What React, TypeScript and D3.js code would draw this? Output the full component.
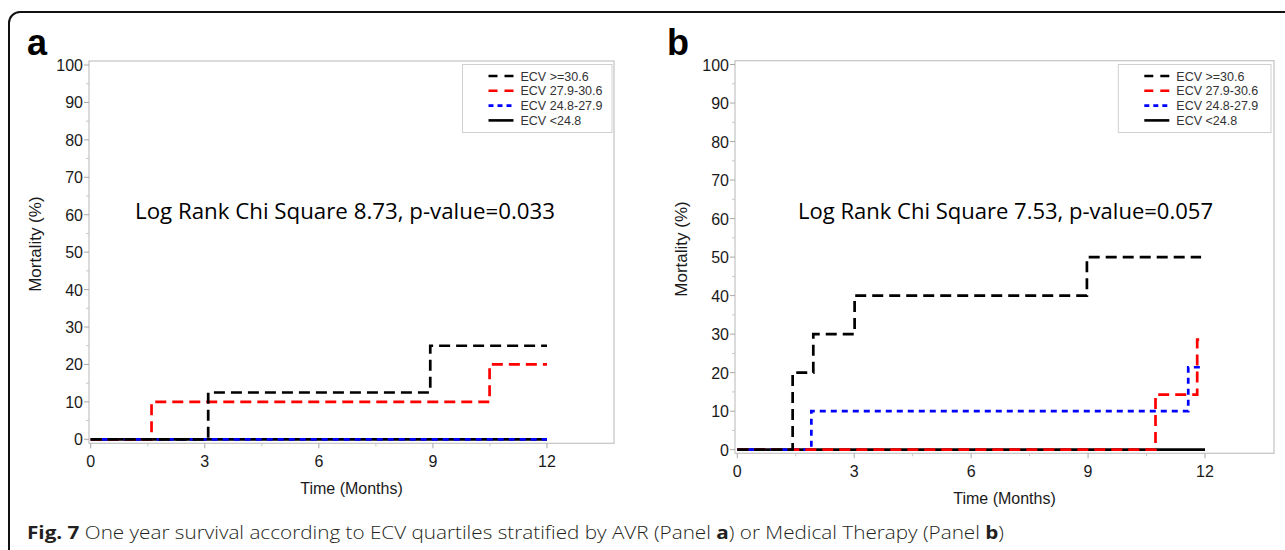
import React, { useEffect, useRef } from 'react';
import * as d3 from 'd3';

// legend labels, in the order they are listed
const groupLabels = ['ECV >=30.6', 'ECV 27.9-30.6', 'ECV 24.8-27.9', 'ECV <24.8'];

const xTicks = [0, 3, 6, 9, 12];
const yTicks = [0, 10, 20, 30, 40, 50, 60, 70, 80, 90, 100];

// Panel a (AVR) - step curves, time in months, mortality in %
const aHighTime = [0, 3.09, 8.93, 12];
const aHighVal = [0, 12.5, 25, 25];
const aMidHighTime = [0, 1.6, 10.49, 12];
const aMidHighVal = [0, 10, 20, 20];
const aMidLowTime = [0, 12];
const aMidLowVal = [0, 0];
const aLowTime = [0, 12];
const aLowVal = [0, 0];

// Panel b (Medical therapy)
const bHighTime = [0, 1.42, 1.95, 3.01, 8.97, 11.9];
const bHighVal = [0, 20, 30, 40, 50, 50];
const bMidHighTime = [0, 10.73, 11.8, 11.86];
const bMidHighVal = [0, 14.3, 28.6, 28.6];
const bMidLowTime = [0, 1.9, 11.57, 11.97];
const bMidLowVal = [0, 10, 21.4, 21.4];
const bLowTime = [0, 12];
const bLowVal = [0, 0];

const statA = 'Log Rank Chi Square 8.73, p-value=0.033';
const statB = 'Log Rank Chi Square 7.53, p-value=0.057';

const styles = [
    { color: '#000', dash: '11,6' },
    { color: '#ff0000', dash: '11,6' },
    { color: '#0000ff', dash: '6,5' },
    { color: '#000', dash: null },
];

const sans = 'Liberation Sans, Arial, sans-serif';

function drawPanel(svg, p) {
    const g = svg.append('g');
    const x = d3.scaleLinear().domain([0, 12]).range([p.x0, p.x12]);
    const y = d3.scaleLinear().domain([0, 100]).range([p.y0, p.y100]);

    // frame
    g.append('rect')
        .attr('x', p.left).attr('y', p.top)
        .attr('width', p.right - p.left).attr('height', p.bottom - p.top)
        .attr('fill', 'none').attr('stroke', '#c4c4c4').attr('stroke-width', 1.2);

    // y ticks
    const yMinor = d3.range(5, 100, 10);
    g.selectAll('line.ymaj').data(yTicks).enter().append('line')
        .attr('x1', p.left - 5).attr('x2', p.left)
        .attr('y1', d => y(d)).attr('y2', d => y(d))
        .attr('stroke', '#a8a8a8');
    g.selectAll('line.ymin').data(yMinor).enter().append('line')
        .attr('x1', p.left - 3).attr('x2', p.left)
        .attr('y1', d => y(d)).attr('y2', d => y(d))
        .attr('stroke', '#c8c8c8');
    g.selectAll('text.ylab').data(yTicks).enter().append('text')
        .attr('x', p.left - 6).attr('y', d => y(d) + 6)
        .attr('text-anchor', 'end')
        .attr('font-family', sans)
        .attr('font-size', 16).attr('fill', '#1a1a1a')
        .text(d => d);

    // x ticks
    const xMinor = [1.5, 4.5, 7.5, 10.5];
    g.selectAll('line.xmaj').data(xTicks).enter().append('line')
        .attr('x1', d => x(d)).attr('x2', d => x(d))
        .attr('y1', p.bottom).attr('y2', p.bottom + 5)
        .attr('stroke', '#a8a8a8');
    g.selectAll('line.xmin').data(xMinor).enter().append('line')
        .attr('x1', d => x(d)).attr('x2', d => x(d))
        .attr('y1', p.bottom).attr('y2', p.bottom + 3)
        .attr('stroke', '#c8c8c8');
    g.selectAll('text.xlab').data(xTicks).enter().append('text')
        .attr('x', d => x(d)).attr('y', p.bottom + 24)
        .attr('text-anchor', 'middle')
        .attr('font-family', sans)
        .attr('font-size', 16).attr('fill', '#1a1a1a')
        .text(d => d);

    // axis titles
    g.append('text')
        .attr('x', (p.left + p.right) / 2).attr('y', p.bottom + 51)
        .attr('text-anchor', 'middle')
        .attr('font-family', sans)
        .attr('font-size', 16).attr('fill', '#1a1a1a')
        .text('Time (Months)');
    g.append('text')
        .attr('transform', `translate(${p.left - 48},${(p.top + p.bottom) / 2 - 8}) rotate(-90)`)
        .attr('text-anchor', 'middle')
        .attr('font-family', sans)
        .attr('font-size', 17).attr('fill', '#1a1a1a')
        .text('Mortality (%)');

    // curves, drawn from the bottom layer up
    const line = d3.line()
        .x(d => x(d[0]))
        .y(d => y(d[1]))
        .curve(d3.curveStepAfter);
    p.order.forEach(i => {
        const s = p.series[i];
        const pts = s.t.map((t, k) => [t, s.v[k]]);
        g.append('path')
            .attr('d', line(pts))
            .attr('fill', 'none')
            .attr('stroke', styles[i].color)
            .attr('stroke-width', 2.7)
            .attr('stroke-dasharray', styles[i].dash);
    });

    // statistic
    g.append('text')
        .attr('x', p.statX - 210).attr('y', 219)
        .attr('font-family', 'Open Sans, sans-serif')
        .attr('font-size', 21).attr('fill', '#000')
        .attr('textLength', p.statW)
        .attr('lengthAdjust', 'spacingAndGlyphs')
        .text(p.stat);

    // legend
    const lg = g.append('g');
    lg.append('rect')
        .attr('x', p.legX).attr('y', 64.5)
        .attr('width', p.legW).attr('height', 68)
        .attr('fill', '#fff').attr('stroke', '#d0d0d0');
    groupLabels.forEach((lab, i) => {
        const yy = 76 + i * 14.8;
        lg.append('line')
            .attr('x1', p.legX + 26).attr('x2', p.legX + 51)
            .attr('y1', yy).attr('y2', yy)
            .attr('stroke', styles[i].color).attr('stroke-width', 2.6)
            .attr('stroke-dasharray', styles[i].dash ? (i === 2 ? '5,4' : '9,7') : null);
        lg.append('text')
            .attr('x', p.legX + 58).attr('y', yy + 4.5)
            .attr('font-family', sans)
            .attr('font-size', 12.5).attr('fill', '#333')
            .text(lab);
    });

    // panel letter
    g.append('text')
        .attr('x', p.letterX).attr('y', 55)
        .attr('font-family', sans)
        .attr('font-weight', 'bold')
        .attr('font-size', 36).attr('fill', '#000')
        .text(p.letter);
}

function App() {
    const ref = useRef(null);

    useEffect(() => {
        const root = d3.select(ref.current);
        root.selectAll('*').remove();
        const svg = root.append('svg')
            .attr('width', 1285)
            .attr('height', 550)
            .style('display', 'block')
            .style('background', '#fff');

        // outer rounded frame
        svg.append('rect')
            .attr('x', 9).attr('y', 12)
            .attr('width', 1320).attr('height', 600)
            .attr('rx', 11)
            .attr('fill', 'none').attr('stroke', '#111').attr('stroke-width', 2);

        drawPanel(svg, {
            left: 89, right: 614, top: 61, bottom: 443.3,
            x0: 90.7, x12: 547, y0: 439.3, y100: 65,
            statX: 345, statW: 420, stat: statA, legX: 462.5, legW: 149.5,
            letter: 'a', letterX: 27,
            order: [3, 2, 1, 0],
            series: [
                { t: aHighTime, v: aHighVal },
                { t: aMidHighTime, v: aMidHighVal },
                { t: aMidLowTime, v: aMidLowVal },
                { t: aLowTime, v: aLowVal },
            ],
        });
        drawPanel(svg, {
            left: 735, right: 1274, top: 60.7, bottom: 453.3,
            x0: 737.3, x12: 1205, y0: 449.7, y100: 64.5,
            statX: 1008, statW: 415, stat: statB, legX: 1118.3, legW: 152.7,
            letter: 'b', letterX: 667,
            order: [3, 2, 1, 0],
            series: [
                { t: bHighTime, v: bHighVal },
                { t: bMidHighTime, v: bMidHighVal },
                { t: bMidLowTime, v: bMidLowVal },
                { t: bLowTime, v: bLowVal },
            ],
        });

        // caption
        const cap = svg.append('text')
            .attr('x', 27).attr('y', 539)
            .attr('font-family', 'Open Sans, sans-serif')
            .attr('font-weight', 300)
            .attr('font-size', 18).attr('fill', '#231f20')
            .attr('textLength', 977)
            .attr('lengthAdjust', 'spacingAndGlyphs');
        cap.append('tspan').attr('font-weight', 'bold').text('Fig. 7');
        cap.append('tspan').text(' One year survival according to ECV quartiles stratified by AVR (Panel ');
        cap.append('tspan').attr('font-weight', 'bold').text('a');
        cap.append('tspan').text(') or Medical Therapy (Panel ');
        cap.append('tspan').attr('font-weight', 'bold').text('b');
        cap.append('tspan').text(')');
    }, []);

    return (
        <div ref={ref} style={{ position: 'absolute', left: 0, top: 0 }}></div>
    );
}

export default App;
